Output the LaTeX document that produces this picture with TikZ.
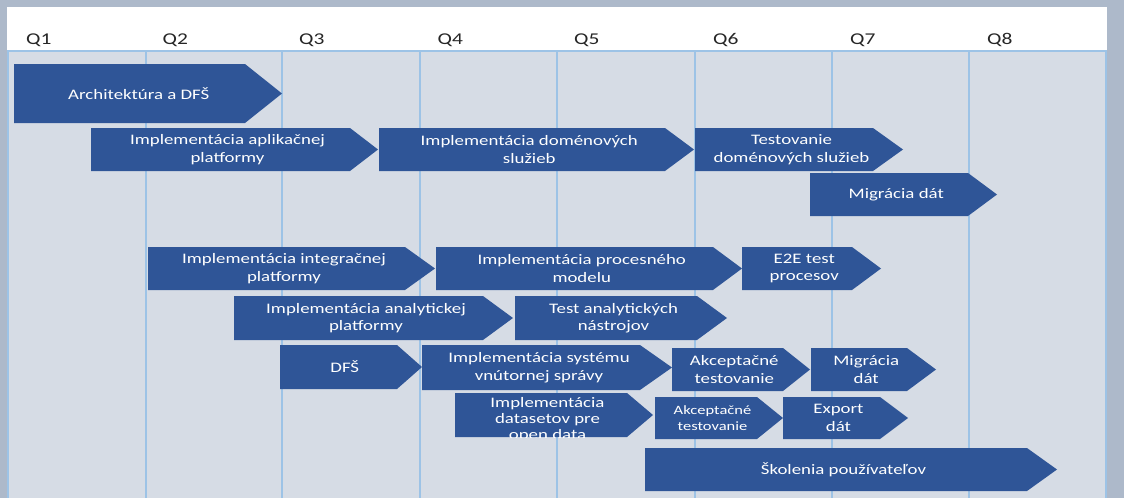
\documentclass[tikz,border=0pt]{standalone}
\usepackage{fontspec}
\setmainfont{Carlito}[FakeStretch=1.3]
\definecolor{outerbg}{HTML}{ADB9CA}
\definecolor{panelbg}{HTML}{D6DCE5}
\definecolor{gridcol}{HTML}{9DC3E6}
\definecolor{phasecol}{HTML}{2F5597}
\tikzset{
  phasefill/.style={fill=phasecol},
  phasetext/.style={text=white, align=center, inner sep=0pt, font=\fontsize{14.5}{17.5}\selectfont},
  smalltext/.style={font=\fontsize{12.7}{15.5}\selectfont},
  tighttext/.style={font=\fontsize{14.5}{16}\selectfont, yshift=-5pt},
  qlabel/.style={anchor=base west, inner sep=0pt, text=black!85, font=\fontsize{16.5}{20}\selectfont},
  gridln/.style={draw=gridcol, line width=1.5pt}
}
\newcommand\phase[8][]{%
  \fill[phasefill] (#3,#4) -- (#6,#4) -- (#7,{(#4+#5)/2}) -- (#6,#5) -- (#3,#5) -- cycle;
  \begin{scope}
    \clip (#3,#4) -- (#6,#4) -- (#7,{(#4+#5)/2}) -- (#6,#5) -- (#3,#5) -- cycle;
    \node[phasetext,#1] (#2) at ({(#3+(#6+#7)/2)/2},{(#4+#5)/2}) {#8};
  \end{scope}}
\begin{document}
\begin{tikzpicture}[x=1pt,y=-1pt]
\useasboundingbox (0,0) rectangle (1124,498);
\fill[outerbg] (0,0) rectangle (1124,498);
\fill[white] (7,7) rectangle (1107,51);
\fill[panelbg] (7,51) rectangle (1107,498);
% grid
\draw[gridln] (7,51) -- (1107,51);
\foreach \gx in {8,146,282,420,557,695,832,969,1106}
  \draw[gridln] (\gx,51) -- (\gx,498);
% quarter labels
\node[qlabel] (q1) at (26,44) {Q1};
\node[qlabel] (q2) at (162.5,44) {Q2};
\node[qlabel] (q3) at (299,44) {Q3};
\node[qlabel] (q4) at (437.5,44) {Q4};
\node[qlabel] (q5) at (574,44) {Q5};
\node[qlabel] (q6) at (713,44) {Q6};
\node[qlabel] (q7) at (850,44) {Q7};
\node[qlabel] (q8) at (987,44) {Q8};
% phases
\phase{arch}{14}{64}{123}{245}{282}{Architektúra a DFŠ}
\phase{apl}{91}{128}{171}{350}{378}{Implementácia aplikačnej\\platformy}
\phase{dom}{379}{128}{171}{665}{694}{Implementácia doménových\\služieb}
\phase{tds}{695}{128}{171}{873}{903}{Testovanie\\doménových služieb}
\phase{migA}{810}{173}{216}{968}{997}{Migrácia dát}
\phase{int}{148}{247}{290}{405}{435}{Implementácia integračnej\\platformy}
\phase{proc}{436}{247}{290}{713}{742}{Implementácia procesného\\modelu}
\phase{etoe}{742}{247}{290}{852}{881}{E2E test\\procesov}
\phase{anal}{234}{296}{340}{483}{513}{Implementácia analytickej\\platformy}
\phase{tan}{515}{296}{340}{697}{727}{Test analytických\\nástrojov}
\phase{dfs}{280}{345}{389}{397}{422}{DFŠ}
\phase{svs}{422}{345}{390}{640}{672}{Implementácia systému\\vnútornej správy}
\phase{akcA}{672}{348}{391}{783}{810}{Akceptačné\\testovanie}
\phase{migB}{811}{348}{391}{907}{936}{Migrácia\\dát}
\phase[tighttext]{ods}{455}{393}{437}{627}{653}{Implementácia\\datasetov pre\\open data}
\phase[smalltext]{akcB}{655}{397}{439}{757}{783}{Akceptačné\\testovanie}
\phase{exp}{783}{397}{439}{880}{908}{Export\\dát}
\phase{sko}{645}{448}{491}{1027}{1057}{Školenia používateľov}
\end{tikzpicture}
\end{document}
